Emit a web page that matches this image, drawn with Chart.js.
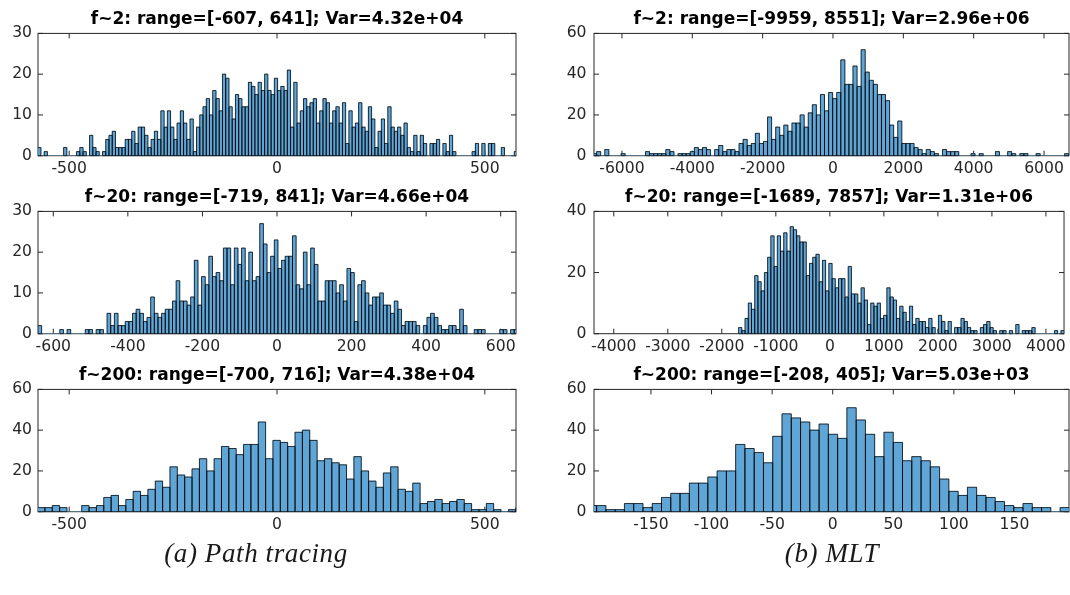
<!DOCTYPE html>
<html>
<head>
<meta charset="utf-8">
<script src="https://cdn.jsdelivr.net/npm/chart.js@4.4.1/dist/chart.umd.min.js"></script>
<style>
  html, body { margin: 0; padding: 0; background: #ffffff; }
  #fig { position: relative; width: 1070px; height: 595px; overflow: hidden; background: #ffffff; }
  #fig canvas { position: absolute; }
  .cap { position: absolute; font-family: "Liberation Serif", "DejaVu Serif", serif; font-style: italic;
         font-size: 27px; letter-spacing: 0.6px; color: #1a1a1a; white-space: nowrap; transform: translateX(-50%); }
</style>
</head>
<body>
<div id="fig">
  <canvas id="tl"></canvas>
  <canvas id="ml"></canvas>
  <canvas id="bl"></canvas>
  <canvas id="tr"></canvas>
  <canvas id="mr"></canvas>
  <canvas id="br"></canvas>
  <div class="cap" style="left:256px; top:538px;">(a) Path tracing</div>
  <div class="cap" style="left:832px; top:538px;">(b) MLT</div>
</div>
<script>
// ---------- Histogram counts (visible bins only) ----------

// Path tracing, f~2 : 160 bins over the sample range, first visible bin = 4
const tlRange = [-607, 641];
const tlBins = 160;
const tlFirstBin = 4;
const tlCounts = [
  2,0,1,0,0,0,0,0,2,0, 0,0,1,2,1,0,5,2,1,0, 1,4,5,6,2,2,2,4,4,6,
  3,7,7,5,2,4,6,4,11,7, 11,7,4,8,11,8,4,9,1,7, 10,12,14,10,16,14,11,20,19,12,
  9,15,14,12,12,18,17,15,18,16, 20,
  16,15,19,16,17,16,21,7,18,8, 11,14,12,13,14,8,11,14,13,8, 11,12,8,13,3,11,7,8,13,7,
  6,12,9,2,6,9,3,12,7,6, 7,5,8,2,1,5,1,5,3,0, 3,3,4,0,3,1,5,1,0,0,
  0,0,0,1,3,0,3,0,3,3, 0,0,2,0,0,0,1
];

// Path tracing, f~20 : 160 bins, first visible bin = 8
const mlRange = [-719, 841];
const mlBins = 160;
const mlFirstBin = 8;
const mlCounts = [
  2, 0,0,0,0,0, 1,0,1, 0,0,0,0, 1,1,0,1,1,0,
  5,2,5,2,2,3,3,5,6,5,3,4,9, 5,4,5,6,6,8,13, 8,8,7,9,18,
  7,14,12,19,14,15,13,21,21,12,21,17, 21,13,20,13,14,
  27,22,15,19,23,16,18,19,19,24,12,11,20,12,21,17,8,8,13,13,13,10,12,8,16, 15,
  3,12,13,10,7,9,9,10,7,7,5,8,6,2,3,3,3,2,0,2,4,5,4,2,1,1,2,2,1,
  6,2,0,0,1,1,1,0,0,0,0,1,1,0,1,1
];

// Path tracing, f~200 : 80 bins, first visible bin = 7
const blRange = [-700, 716];
const blBins = 80;
const blFirstBin = 7;
const blCounts = [
  2,2,3,2,0,0,3,2,3,7, 8,3,6,10,8,11,15,12,22,18, 17,21,26,20,26,32,31,28,33,33,
  44,26,35,34,32,39,40,35,25,26, 24,23,16,27,20,15,12,19,22,11, 10,14,4,5,6,4,5,6,4,1,
  1,4,1,0,1,2
];

// MLT, f~2 : 160 bins, first visible bin = 27
const trRange = [-9959, 8551];
const trBins = 160;
const trFirstBin = 27;
const trCounts = [
  1,2,0,3,0,0,0,1,0,0,0,0,0,
  2,1,1,1,1,3,2,0,1,1, 1,2,4,3,4,3,0,3,5,2, 3,3,2,6,8,5,6,11,6,7,
  19,8,14,10,15,12,16,16,20,14, 21,25,20,30,22,31,28,31,47,35, 35,44,34,52,41,37,35,30,30,27,
  15,9,17,6,6,6,4,3,1,3, 2,1,0,3,2,2,2,0,0,0, 1,0,1,0,0,0,2,0,0,2,
  1,0,1,1,0,0,1,0,0,0, 0,0,0,1
];

// MLT, f~20 : 160 bins, first visible bin = 0
const mrRange = [-1689, 7857];
const mrBins = 160;
const mrFirstBin = 0;
const mrCounts = [
  2,1,5,10,8,19,17,14,20,25, 32,22,32,27,33,27,35,34,32,30, 30,19,23,25,26,
  17,24,14,23,18,15,18,18,12,22, 13,13,10,15,11,3,10,9,10,5, 6,15,12,11,5,9,7,4,9,3,
  5,4,4,2,5,2,0,6,4,1, 4,0,2,2,5,4,2,1,1,0, 2,3,4,2,1,0,1,1,0,1,
  0,3,0,1,1,1,2,0,0,0, 0,0,0,1,0,1
];

// MLT, f~200 : bin edges (left edge, width)
const brEdge0 = -202.5;
const brBinWidth = 7.65;
const brCounts = [
  3,3,1,1,4,4,2,4,7,9, 9,14,14,17,20,20,33,31,29,24, 37,48,46,44,40,43,38,36,51,45,
  38,27,39,34,25,27,25,22,16,10, 8,12,8,7,5,3,2,4,2,2, 0,2
];

// ---------- Axis limits and ticks ----------
const tlXLim = [-575, 575],   tlXTicks = [-500, 0, 500],   tlYMax = 30, tlYTicks = [0, 10, 20, 30];
const mlXLim = [-641, 641],   mlXTicks = [-600, -400, -200, 0, 200, 400, 600], mlYMax = 30, mlYTicks = [0, 10, 20, 30];
const blXLim = [-575, 575],   blXTicks = [-500, 0, 500],   blYMax = 60, blYTicks = [0, 20, 40, 60];
const trXLim = [-6795, 6710], trXTicks = [-6000, -4000, -2000, 0, 2000, 4000, 6000], trYMax = 60, trYTicks = [0, 20, 40, 60];
const mrXLim = [-4366, 4335], mrXTicks = [-4000, -3000, -2000, -1000, 0, 1000, 2000, 3000, 4000], mrYMax = 40, mrYTicks = [0, 20, 40];
const brXLim = [-197, 195],   brXTicks = [-150, -100, -50, 0, 50, 100, 150], brYMax = 60, brYTicks = [0, 20, 40, 60];

// ---------- Titles ----------
const tlTitle = 'f~2: range=[-607, 641]; Var=4.32e+04';
const mlTitle = 'f~20: range=[-719, 841]; Var=4.66e+04';
const blTitle = 'f~200: range=[-700, 716]; Var=4.38e+04';
const trTitle = 'f~2: range=[-9959, 8551]; Var=2.96e+06';
const mrTitle = 'f~20: range=[-1689, 7857]; Var=1.31e+06';
const brTitle = 'f~200: range=[-208, 405]; Var=5.03e+03';

// ---------- Helpers ----------
function binPoints(start, width, counts) {
  return counts.map((c, i) => ({ x: start + (i + 0.5) * width, y: c }));
}
function rangeStart(range, bins, first) {
  return range[0] + first * (range[1] - range[0]) / bins;
}
function rangeWidth(range, bins) {
  return (range[1] - range[0]) / bins;
}

// Box outline plus inward-pointing tick marks on all four sides
const boxTicks = {
  id: 'boxTicks',
  beforeDatasetsDraw(chart) {
    const { ctx, chartArea: a, scales: { x, y } } = chart;
    const L = 5;
    ctx.save();
    ctx.strokeStyle = '#262626';
    ctx.lineWidth = 1;
    ctx.strokeRect(a.left, a.top, a.right - a.left, a.bottom - a.top);
    ctx.beginPath();
    x.ticks.forEach(t => {
      const px = x.getPixelForValue(t.value);
      ctx.moveTo(px, a.bottom); ctx.lineTo(px, a.bottom - L);
      ctx.moveTo(px, a.top);    ctx.lineTo(px, a.top + L);
    });
    y.ticks.forEach(t => {
      const py = y.getPixelForValue(t.value);
      ctx.moveTo(a.left, py);  ctx.lineTo(a.left + L, py);
      ctx.moveTo(a.right, py); ctx.lineTo(a.right - L, py);
    });
    ctx.stroke();
    ctx.restore();
  }
};

// Thin black outline around every histogram bar, taken from the bar elements
const barOutline = {
  id: 'barOutline',
  afterDatasetsDraw(chart) {
    const { ctx, chartArea: a } = chart;
    const meta = chart.getDatasetMeta(0);
    ctx.save();
    ctx.beginPath();
    ctx.rect(a.left, a.top - 1, a.right - a.left, a.bottom - a.top + 2);
    ctx.clip();
    ctx.strokeStyle = '#000000';
    ctx.lineWidth = 0.75;
    ctx.beginPath();
    meta.data.forEach(el => {
      const p = el.getProps(['x', 'y', 'base', 'width'], true);
      const h = p.base - p.y;
      if (h <= 0) return;
      ctx.rect(p.x - p.width / 2, p.y, p.width, h);
    });
    ctx.stroke();
    ctx.restore();
  }
};

// ---------- Layout of the 3x2 grid ----------
const columns = [
  { left: 0,   width: 540, axisW: 38, padRight: 24, yPad: 6 },
  { left: 546, width: 524, axisW: 48, padRight: 1,  yPad: 7.5 }
];
const rowTops = [0, 178, 356];
const canvasH = 185;
const padTop = 9;
const titleSize = 17, titleLine = 1.2, titleGap = 4;
const plotH = 122.3;
const xAxisH = canvasH - padTop - titleSize * titleLine - titleGap - plotH;

const tickFont = { family: 'DejaVu Sans', size: 15.6 };
const tickColor = '#262626';
const barFill = '#5fa5d6';

function makePanel(id, col, row, title, points, xLim, xTicks, yMax, yTicks) {
  const c = columns[col];
  const cv = document.getElementById(id);
  cv.width = c.width;
  cv.height = canvasH;
  cv.style.left = c.left + 'px';
  cv.style.top = rowTops[row] + 'px';
  return new Chart(cv, {
    type: 'bar',
    data: {
      datasets: [{
        data: points,
        backgroundColor: barFill,
        borderWidth: 0,
        inflateAmount: 0.3,
        barPercentage: 1,
        categoryPercentage: 1
      }]
    },
    options: {
      responsive: false,
      maintainAspectRatio: false,
      animation: false,
      devicePixelRatio: 1,
      events: [],
      layout: { padding: { top: padTop, left: 0, right: c.padRight, bottom: 0 } },
      plugins: {
        legend: { display: false },
        tooltip: { enabled: false },
        title: {
          display: true,
          text: title,
          fullSize: false,
          color: '#000000',
          font: { family: 'DejaVu Sans', size: titleSize, weight: 'bold', lineHeight: titleLine },
          padding: { top: 0, bottom: titleGap }
        }
      },
      scales: {
        x: {
          type: 'linear',
          min: xLim[0],
          max: xLim[1],
          offset: false,
          grid: { display: false, offset: false, drawTicks: false },
          border: { display: false },
          afterBuildTicks: s => { s.ticks = xTicks.map(v => ({ value: v })); },
          afterFit: s => { s.height = xAxisH; },
          ticks: {
            autoSkip: false, maxRotation: 0, minRotation: 0, padding: 4,
            color: tickColor, font: tickFont,
            callback: v => String(v)
          }
        },
        y: {
          min: 0,
          max: yMax,
          grid: { display: false, drawTicks: false },
          border: { display: false },
          afterBuildTicks: s => { s.ticks = yTicks.map(v => ({ value: v })); },
          afterFit: s => { s.width = c.axisW; },
          ticks: { padding: c.yPad, color: tickColor, font: tickFont, callback: v => String(v) }
        }
      }
    },
    plugins: [boxTicks, barOutline]
  });
}

makePanel('tl', 0, 0, tlTitle,
  binPoints(rangeStart(tlRange, tlBins, tlFirstBin), rangeWidth(tlRange, tlBins), tlCounts),
  tlXLim, tlXTicks, tlYMax, tlYTicks);
makePanel('ml', 0, 1, mlTitle,
  binPoints(rangeStart(mlRange, mlBins, mlFirstBin), rangeWidth(mlRange, mlBins), mlCounts),
  mlXLim, mlXTicks, mlYMax, mlYTicks);
makePanel('bl', 0, 2, blTitle,
  binPoints(rangeStart(blRange, blBins, blFirstBin), rangeWidth(blRange, blBins), blCounts),
  blXLim, blXTicks, blYMax, blYTicks);
makePanel('tr', 1, 0, trTitle,
  binPoints(rangeStart(trRange, trBins, trFirstBin), rangeWidth(trRange, trBins), trCounts),
  trXLim, trXTicks, trYMax, trYTicks);
makePanel('mr', 1, 1, mrTitle,
  binPoints(rangeStart(mrRange, mrBins, mrFirstBin), rangeWidth(mrRange, mrBins), mrCounts),
  mrXLim, mrXTicks, mrYMax, mrYTicks);
makePanel('br', 1, 2, brTitle,
  binPoints(brEdge0, brBinWidth, brCounts),
  brXLim, brXTicks, brYMax, brYTicks);
</script>
</body>
</html>
